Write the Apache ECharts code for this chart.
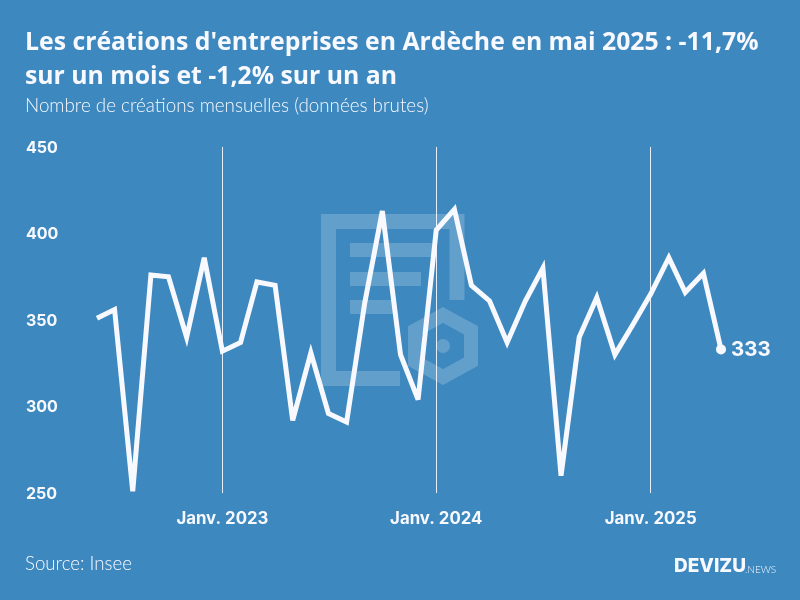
<!DOCTYPE html>
<html>
<head>
<meta charset="utf-8">
<style>
  html, body { margin: 0; padding: 0; background: #3d88bf; }
  #chart { width: 800px; height: 600px; }
</style>
<script src="https://cdn.jsdelivr.net/npm/echarts@6/dist/echarts.min.js"></script>
</head>
<body>
<div id="chart"></div>
<script>
// donnees mensuelles
var months = [
  '2022-06-01', '2022-07-01', '2022-08-01', '2022-09-01', '2022-10-01', '2022-11-01', '2022-12-01',
  '2023-01-01', '2023-02-01', '2023-03-01', '2023-04-01', '2023-05-01', '2023-06-01',
  '2023-07-01', '2023-08-01', '2023-09-01', '2023-10-01', '2023-11-01', '2023-12-01',
  '2024-01-01', '2024-02-01', '2024-03-01', '2024-04-01', '2024-05-01', '2024-06-01',
  '2024-07-01', '2024-08-01', '2024-09-01', '2024-10-01', '2024-11-01', '2024-12-01',
  '2025-01-01', '2025-02-01', '2025-03-01', '2025-04-01', '2025-05-01'
];
var creations = [
  351, 356, 251, 376, 375, 340, 386,
  332, 337, 372, 370, 292, 331,
  296, 291, 360, 413, 330, 304,
  402, 414, 370, 361, 337, 361,
  380, 260, 340, 363, 330, 347,
  365, 386, 366, 377, 333
];
var yTicks = [250, 300, 350, 400, 450];
var yearTicks = ['2023-01-01', '2024-01-01', '2025-01-01'];
var yearLabels = ['Janv. 2023', 'Janv. 2024', 'Janv. 2025'];

var WHITE = '#f8f9ff';
var WATERMARK = 'rgba(255,255,255,0.2)';
var TITLE_FONT = 'Open Sans';
var TEXT_FONT = 'Lato';
var AXIS_FONT = 'Inter';

function toTime(s) {
  return echarts.time.parse(s).getTime();
}

var yearTimes = yearTicks.map(toTime);
var lineData = months.map(function (m, i) { return [m, creations[i]]; });
var lastIndex = months.length - 1;

function watermarkBar(x, y, width) {
  return { type: 'rect', z: 0, shape: { x: x, y: y, width: width, height: 14 }, style: { fill: WATERMARK } };
}

var chart = echarts.init(document.getElementById('chart'));
chart.setOption({
  animation: false,
  backgroundColor: '#3d88bf',
  title: [
    {
      text: "Les créations d'entreprises en Ardèche en mai 2025 : -11,7%\nsur un mois et -1,2% sur un an",
      left: 25, top: 26, padding: 0,
      textStyle: { color: WHITE, fontFamily: TITLE_FONT, fontWeight: 700, fontSize: 24.8, lineHeight: 34 }
    },
    {
      text: 'Nombre de créations mensuelles (données brutes)',
      left: 25, top: 96, padding: 0,
      textStyle: { color: WHITE, fontFamily: TEXT_FONT, fontWeight: 300, fontSize: 18.8 }
    },
    {
      text: 'Source: Insee',
      left: 25, top: 554, padding: 0,
      textStyle: { color: WHITE, fontFamily: TEXT_FONT, fontWeight: 300, fontSize: 18.7 }
    }
  ],
  graphic: [
    // filigrane derriere la courbe
    {
      type: 'polyline', z: 0,
      shape: { points: [[400, 378.5], [328.5, 378.5], [328.5, 221.5], [457, 221.5], [457, 300]] },
      style: { stroke: WATERMARK, lineWidth: 15, fill: null, lineJoin: 'miter' }
    },
    watermarkBar(350, 243, 82),
    watermarkBar(350, 272, 71),
    watermarkBar(350, 300, 43),
    {
      type: 'polygon', z: 0,
      shape: { points: [[443, 315], [471, 330.5], [471, 361.5], [443, 377], [415, 361.5], [415, 330.5]] },
      style: { stroke: WATERMARK, lineWidth: 14, fill: null, lineJoin: 'miter' }
    },
    { type: 'circle', z: 0, shape: { cx: 443, cy: 346, r: 7 }, style: { fill: WATERMARK } },
    // logo
    {
      type: 'text', left: 674, top: 557,
      style: { text: 'DEVIZU', fill: WHITE, font: '800 19px Inter' }
    },
    {
      type: 'text', left: 745, top: 565,
      style: { text: '.NEWS', fill: WHITE, font: '300 10px Lato' }
    }
  ],
  grid: { left: 97, right: 79, top: 147, bottom: 107 },
  xAxis: {
    type: 'time',
    min: toTime(months[0]),
    max: toTime(months[lastIndex]),
    axisLine: { show: false },
    axisTick: { show: false },
    splitLine: { show: false },
    axisLabel: {
      hideOverlap: false,
      margin: 17,
      color: WHITE,
      fontFamily: AXIS_FONT,
      fontWeight: 700,
      fontSize: 16.8,
      // seuls les mois de janvier portent un libelle
      formatter: function (value) {
        var i = yearTimes.indexOf(value);
        return i < 0 ? '' : yearLabels[i];
      }
    }
  },
  yAxis: {
    type: 'value',
    min: yTicks[0],
    max: yTicks[yTicks.length - 1],
    interval: 50,
    axisLine: { show: false },
    axisTick: { show: false },
    splitLine: { show: false },
    axisLabel: {
      align: 'left',
      margin: 71,
      verticalAlign: 'top',
      lineHeight: 2,
      color: WHITE,
      fontFamily: AXIS_FONT,
      fontWeight: 700,
      fontSize: 16
    }
  },
  series: [
    {
      type: 'line',
      data: lineData,
      showSymbol: false,
      clip: false,
      z: 3,
      lineStyle: { color: WHITE, width: 5, join: 'miter', miterLimit: 4, cap: 'butt' },
      markLine: {
        silent: true,
        symbol: 'none',
        z: 1,
        label: { show: false },
        lineStyle: { color: WHITE, width: 1, type: 'solid', opacity: 0.9 },
        data: yearTimes.map(function (t) { return { xAxis: t }; })
      }
    },
    {
      type: 'scatter',
      data: [lineData[lastIndex]],
      symbol: 'circle',
      symbolSize: 10,
      z: 4,
      itemStyle: { color: WHITE, opacity: 1 },
      label: {
        show: true,
        position: 'right',
        distance: 5,
        color: WHITE,
        fontFamily: AXIS_FONT,
        fontWeight: 700,
        fontSize: 20.5,
        formatter: function (p) { return p.value[1]; }
      }
    }
  ]
});
</script>
</body>
</html>
